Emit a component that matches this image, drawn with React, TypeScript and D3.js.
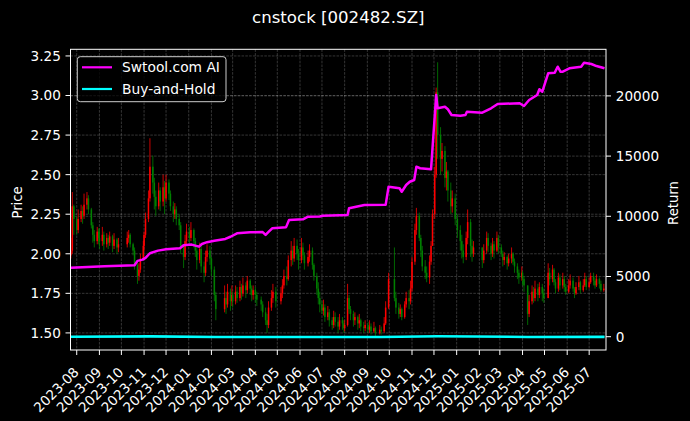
import React from "react";
import * as d3 from "d3";

// ---------- data ----------
const titleText = "cnstock [002482.SZ]";
const firstDay = "2023-07-24";
const lastDay = "2025-07-22";
const holidayRanges: [string, string][] = [
  ["2023-09-29", "2023-10-06"], ["2024-01-01", "2024-01-01"], ["2024-02-09", "2024-02-16"],
  ["2024-04-04", "2024-04-05"], ["2024-05-01", "2024-05-03"], ["2024-06-10", "2024-06-10"],
  ["2024-09-16", "2024-09-17"], ["2024-10-01", "2024-10-07"], ["2025-01-01", "2025-01-01"],
  ["2025-01-28", "2025-02-04"], ["2025-04-04", "2025-04-04"], ["2025-05-01", "2025-05-05"],
  ["2025-06-02", "2025-06-02"],
];

const firstOpen = 1.99;
// one candle per two trading days, grouped by month
const closes = [
  2.02, 2.30, 2.22,
  2.15, 2.22, 2.27, 2.24, 2.31, 2.35, 2.28, 2.18, 2.12, 2.08, 2.14, 2.10,
  2.08, 2.12, 2.06, 2.10, 2.07, 2.11, 2.05, 2.09, 2.04, 2.06,
  2.10, 2.12, 2.06, 2.02, 1.93, 1.86, 1.90, 1.97, 2.05,
  2.12, 2.22, 2.35, 2.55, 2.45, 2.36, 2.30, 2.40, 2.33, 2.42, 2.35,
  2.45, 2.38, 2.30, 2.25, 2.28, 2.22, 2.18, 2.05, 1.98, 2.08, 2.14,
  2.10, 2.15, 2.08, 2.02, 1.96, 2.03, 1.92, 1.88, 1.98, 2.02, 1.97,
  1.90, 1.74, 1.65, 1.72, 1.68, 1.76, 1.70, 1.74,
  1.70, 1.76, 1.72, 1.79, 1.75, 1.80, 1.77, 1.83, 1.78, 1.74, 1.77,
  1.74, 1.71, 1.68, 1.63, 1.58, 1.55, 1.66, 1.72, 1.76, 1.70,
  1.75, 1.80, 1.86, 1.84, 1.96, 2.02, 1.97, 2.05, 2.00, 1.96,
  2.04, 1.99, 1.94, 1.98, 2.02, 1.93, 1.86, 1.78, 1.72, 1.68,
  1.64, 1.66, 1.60, 1.63, 1.58, 1.55, 1.60, 1.57, 1.54, 1.58, 1.56, 1.53,
  1.55, 1.72, 1.65, 1.62, 1.58, 1.60, 1.56, 1.58, 1.54, 1.53, 1.55,
  1.52, 1.54, 1.51, 1.53, 1.50, 1.52, 1.51, 1.56, 1.66, 1.84,
  1.72, 1.66, 1.62, 1.65, 1.60, 1.68, 1.72, 1.70, 1.78,
  1.95, 2.15, 2.24, 2.10, 2.02, 1.92, 1.88, 1.85, 1.95, 2.05, 2.25,
  2.50, 3.02, 2.75, 2.60, 2.65, 2.48, 2.52, 2.40, 2.30, 2.35, 2.22,
  2.15, 2.08, 2.02, 1.98, 2.10, 2.20, 2.05, 2.00, 2.04,
  1.96, 2.02, 2.10, 2.05, 2.00, 2.06, 2.02, 2.10, 2.04,
  2.00, 1.96, 1.98, 1.94, 1.97, 2.00, 1.95, 1.92, 1.88, 1.85, 1.88,
  1.84, 1.80, 1.62, 1.70, 1.76, 1.72, 1.78, 1.74, 1.79, 1.75, 1.72,
  1.88, 1.84, 1.90, 1.82, 1.78, 1.85, 1.80, 1.84, 1.79, 1.76,
  1.80, 1.83, 1.78, 1.75, 1.79, 1.82, 1.77, 1.80, 1.84, 1.79,
  1.82, 1.86, 1.83, 1.80, 1.84, 1.81, 1.77, 1.78,
];
const highs = [
  2.10, 2.39, 2.31,
  2.24, 2.28, 2.31, 2.30, 2.38, 2.39, 2.37, 2.29, 2.20, 2.15, 2.17, 2.16,
  2.16, 2.17, 2.14, 2.13, 2.12, 2.14, 2.12, 2.13, 2.10, 2.10,
  2.14, 2.15, 2.13, 2.07, 2.04, 1.95, 1.94, 2.00, 2.08,
  2.14, 2.26, 2.40, 2.73, 2.62, 2.48, 2.40, 2.45, 2.42, 2.50, 2.46,
  2.50, 2.47, 2.40, 2.33, 2.32, 2.30, 2.25, 2.20, 2.06, 2.12, 2.19,
  2.17, 2.20, 2.16, 2.10, 2.04, 2.07, 2.05, 1.95, 2.02, 2.06, 2.05,
  1.98, 1.92, 1.76, 1.80, 1.76, 1.81, 1.78, 1.80,
  1.76, 1.80, 1.79, 1.83, 1.81, 1.85, 1.82, 1.86, 1.84, 1.80, 1.80,
  1.79, 1.76, 1.73, 1.70, 1.66, 1.62, 1.70, 1.77, 1.81, 1.79,
  1.79, 1.84, 1.90, 1.92, 1.99, 2.08, 2.05, 2.10, 2.09, 2.03,
  2.10, 2.07, 2.01, 2.02, 2.06, 2.04, 1.94, 1.88, 1.82, 1.76,
  1.70, 1.71, 1.68, 1.67, 1.65, 1.60, 1.64, 1.63, 1.60, 1.62, 1.60, 1.58,
  1.58, 1.81, 1.74, 1.67, 1.64, 1.63, 1.61, 1.62, 1.59, 1.57, 1.58,
  1.57, 1.58, 1.56, 1.57, 1.54, 1.55, 1.54, 1.60, 1.70, 1.88,
  2.04, 1.76, 1.69, 1.68, 1.66, 1.70, 1.76, 1.77, 1.83,
  1.98, 2.19, 2.29, 2.26, 2.12, 2.05, 1.96, 1.92, 1.99, 2.08, 2.28,
  2.55, 3.05, 3.21, 2.80, 2.70, 2.68, 2.58, 2.53, 2.45, 2.40, 2.38,
  2.25, 2.18, 2.12, 2.06, 2.14, 2.28, 2.22, 2.09, 2.08,
  2.02, 2.06, 2.14, 2.13, 2.07, 2.10, 2.08, 2.14, 2.12,
  2.06, 2.02, 2.01, 1.99, 2.00, 2.04, 2.01, 1.97, 1.94, 1.90, 1.92,
  1.89, 1.86, 1.78, 1.74, 1.80, 1.79, 1.83, 1.81, 1.82, 1.81, 1.78,
  1.94, 1.91, 1.93, 1.91, 1.84, 1.88, 1.87, 1.88, 1.86, 1.81,
  1.84, 1.87, 1.85, 1.79, 1.82, 1.86, 1.83, 1.84, 1.88, 1.86,
  1.85, 1.88, 1.88, 1.85, 1.87, 1.85, 1.83, 1.81,
];
const lows = [
  1.97, 2.00, 2.12,
  2.12, 2.13, 2.20, 2.19, 2.22, 2.28, 2.25, 2.16, 2.07, 2.04, 2.06, 2.06,
  2.03, 2.05, 2.02, 2.04, 2.03, 2.05, 2.01, 2.03, 2.00, 2.01,
  2.04, 2.07, 2.04, 1.99, 1.90, 1.81, 1.83, 1.88, 1.96,
  2.02, 2.10, 2.20, 2.33, 2.38, 2.28, 2.24, 2.28, 2.27, 2.30, 2.25,
  2.33, 2.34, 2.27, 2.20, 2.22, 2.18, 2.15, 2.00, 1.91, 1.96, 2.05,
  2.06, 2.08, 2.04, 1.98, 1.90, 1.94, 1.88, 1.82, 1.86, 1.95, 1.93,
  1.86, 1.70, 1.58, 1.63, 1.62, 1.66, 1.64, 1.67,
  1.66, 1.68, 1.69, 1.70, 1.71, 1.73, 1.72, 1.75, 1.74, 1.70, 1.71,
  1.69, 1.67, 1.64, 1.60, 1.55, 1.50, 1.53, 1.64, 1.69, 1.66,
  1.68, 1.72, 1.78, 1.80, 1.83, 1.92, 1.93, 1.95, 1.96, 1.90,
  1.94, 1.96, 1.90, 1.92, 1.95, 1.90, 1.83, 1.74, 1.68, 1.63,
  1.62, 1.61, 1.57, 1.58, 1.54, 1.52, 1.53, 1.54, 1.50, 1.52, 1.52, 1.50,
  1.51, 1.54, 1.62, 1.58, 1.54, 1.55, 1.52, 1.53, 1.51, 1.50, 1.51,
  1.50, 1.50, 1.49, 1.50, 1.48, 1.49, 1.49, 1.50, 1.55, 1.65,
  1.70, 1.62, 1.59, 1.60, 1.58, 1.59, 1.66, 1.65, 1.68,
  1.76, 1.93, 2.12, 2.08, 1.98, 1.89, 1.84, 1.82, 1.81, 1.93, 2.06,
  2.22, 2.48, 2.60, 2.50, 2.52, 2.42, 2.40, 2.33, 2.25, 2.26, 2.18,
  2.10, 2.02, 1.97, 1.94, 1.96, 2.06, 1.98, 1.95, 1.98,
  1.91, 1.94, 2.00, 2.01, 1.96, 1.98, 1.97, 2.01, 2.00,
  1.98, 1.92, 1.93, 1.90, 1.92, 1.94, 1.93, 1.88, 1.84, 1.81, 1.83,
  1.80, 1.76, 1.55, 1.60, 1.68, 1.69, 1.70, 1.70, 1.72, 1.70, 1.69,
  1.72, 1.80, 1.82, 1.80, 1.75, 1.76, 1.77, 1.78, 1.76, 1.74,
  1.75, 1.78, 1.76, 1.72, 1.74, 1.77, 1.75, 1.76, 1.79, 1.77,
  1.78, 1.81, 1.80, 1.78, 1.79, 1.78, 1.76, 1.76,
];

const stratDates = [
  "2023-07-24", "2023-09-08", "2023-10-19", "2023-10-23", "2023-10-30", "2023-11-03", "2023-11-09",
  "2023-11-20", "2023-12-01", "2023-12-20", "2023-12-25", "2024-01-05", "2024-01-15", "2024-01-19",
  "2024-01-26", "2024-02-05", "2024-02-20", "2024-02-27", "2024-03-07", "2024-03-25", "2024-04-11",
  "2024-04-15", "2024-04-19", "2024-04-24", "2024-05-13", "2024-05-17", "2024-06-05", "2024-06-12",
  "2024-06-28", "2024-07-02", "2024-08-05", "2024-08-07", "2024-08-28", "2024-09-26", "2024-09-30",
  "2024-10-15", "2024-10-18", "2024-10-24", "2024-10-29", "2024-11-04", "2024-11-07", "2024-11-12",
  "2024-11-27", "2024-12-02", "2024-12-04", "2024-12-06", "2024-12-16", "2024-12-20", "2024-12-25",
  "2025-01-06", "2025-01-13", "2025-01-15", "2025-02-05", "2025-02-17", "2025-02-26", "2025-03-28",
  "2025-04-03", "2025-04-10", "2025-04-21", "2025-04-24", "2025-04-28", "2025-05-06", "2025-05-15",
  "2025-05-19", "2025-05-23", "2025-05-26", "2025-06-04", "2025-06-20", "2025-06-24", "2025-07-04",
  "2025-07-11", "2025-07-22",
];
const stratValues = [
  5730, 5850, 5930, 6300, 6400, 6550, 6930,
  7150, 7260, 7340, 7600, 7650, 7480, 7700,
  7850, 7970, 8120, 8300, 8590, 8670, 8690,
  8450, 8700, 9000, 9100, 9690, 9750, 9970,
  9990, 10050, 10110, 10665, 10940, 10950, 12460,
  12330, 12040, 12600, 12870, 13015, 14120, 13990,
  13900, 18270, 20075, 18970, 19100, 18890, 18415,
  18360, 18415, 18690, 18606, 18970, 19330, 19385,
  19160, 19660, 20075, 20550, 20350, 21880, 21930,
  22425, 22000, 22010, 22290, 22425, 22760, 22650,
  22480, 22290,
];
const bhDates = ["2023-07-24", "2023-11-10", "2024-02-07", "2024-09-20", "2024-12-06", "2025-04-08", "2025-07-22"];
const bhValues = [0, 27, -20, -25, 38, -20, -11];

const monthTickLabels = [
  "2023-08", "2023-09", "2023-10", "2023-11", "2023-12", "2024-01", "2024-02", "2024-03",
  "2024-04", "2024-05", "2024-06", "2024-07", "2024-08", "2024-09", "2024-10", "2024-11",
  "2024-12", "2025-01", "2025-02", "2025-03", "2025-04", "2025-05", "2025-06", "2025-07",
];
const priceTicks = [1.5, 1.75, 2.0, 2.25, 2.5, 2.75, 3.0, 3.25];
const returnTicks = [0, 5000, 10000, 15000, 20000];
const legendLabels = ["Swtool.com AI", "Buy-and-Hold"];

// ---------- layout ----------
const W = 690, H = 421;
const L = 70.5, R = 606, T = 49.3, B = 350;
const FONT = "DejaVu Sans";
const UP = "#ff0000", DOWN = "#008000";
const MAGENTA = "#ff00ff", CYAN = "#00ffff";

const parse = d3.timeParse("%Y-%m-%d");
const monthKey = d3.timeFormat("%Y-%m");

function tradingDays(): Date[] {
  const start = parse(firstDay)!;
  const end = parse(lastDay)!;
  const hol = holidayRanges.map(([a, b]) => [parse(a)!, parse(b)!]);
  return d3.timeDay.range(start, d3.timeDay.offset(end, 1)).filter((d) => {
    const wd = d.getDay();
    if (wd === 0 || wd === 6) return false;
    return !hol.some(([a, b]) => d >= a && d <= b);
  });
}

function candleDates(): Date[] {
  const out: Date[] = [];
  let key = "";
  let k = 0;
  for (const d of tradingDays()) {
    const m = monthKey(d);
    if (m !== key) { key = m; k = 0; }
    if (k % 2 === 0) out.push(d);
    k++;
  }
  return out;
}

export default function App() {
  const x = d3.scaleTime()
    .domain([new Date(2023, 6, 23, 12), new Date(2025, 6, 24)])
    .range([L, R]);
  const yP = d3.scaleLinear().domain([1.392, 3.292]).range([B, T]);
  const yR = d3.scaleLinear().domain([-1105, 23870]).range([B, T]);

  const dates = candleDates();
  const n = Math.min(dates.length, closes.length, highs.length, lows.length);
  const candles = d3.range(n).map((i) => {
    const o = i === 0 ? firstOpen : closes[i - 1];
    const c = closes[i];
    return {
      d: dates[i], o, c,
      h: Math.max(highs[i], o, c),
      l: Math.min(lows[i], o, c),
    };
  });

  const stratLine = d3.line<[Date, number]>().x((p) => x(p[0])).y((p) => yR(p[1]));
  const stratPts: [Date, number][] = stratDates.map((s, i) => [parse(s)!, stratValues[i]]);
  const bhPts: [Date, number][] = bhDates.map((s, i) => [parse(s)!, bhValues[i]]);

  const monthTicks = monthTickLabels.map((s) => parse(s + "-01")!);
  const bw = 1.5;

  const gridStyle = { stroke: "#ffffff", strokeOpacity: 0.3, strokeWidth: 0.7, strokeDasharray: "2.6,1.2" };

  return (
    <svg width={W} height={H} style={{ position: "absolute", left: 0, top: 0, background: "#000" }}
      fontFamily={FONT}>
      <rect x={0} y={0} width={W} height={H} fill="#000" />
      <text x={338.3} y={22.7} fill="#fff" fontSize={16.6} textAnchor="middle">{titleText}</text>

      {/* grid */}
      <g>
        {monthTicks.map((d, i) => (
          <line key={"gx" + i} x1={x(d)} x2={x(d)} y1={T} y2={B} {...gridStyle} />
        ))}
        {priceTicks.map((v, i) => (
          <line key={"gp" + i} x1={L} x2={R} y1={yP(v)} y2={yP(v)} {...gridStyle} />
        ))}
        {returnTicks.map((v, i) => (
          <line key={"gr" + i} x1={L} x2={R} y1={yR(v)} y2={yR(v)} {...gridStyle} />
        ))}
      </g>

      {/* candles */}
      <g>
        {candles.map((c, i) => {
          const cx = x(c.d);
          const col = c.c >= c.o ? UP : DOWN;
          const top = yP(Math.max(c.o, c.c));
          const bot = yP(Math.min(c.o, c.c));
          return (
            <g key={"c" + i}>
              <line x1={cx} x2={cx} y1={yP(c.h)} y2={yP(c.l)} stroke={col} strokeWidth={0.8} />
              <rect x={cx - bw / 2} y={top} width={bw} height={Math.max(bot - top, 0.8)} fill={col} />
            </g>
          );
        })}
      </g>

      {/* return lines */}
      <path d={stratLine(stratPts) || ""} fill="none" stroke={MAGENTA} strokeWidth={2.5} strokeLinejoin="round" />
      <path d={stratLine(bhPts) || ""} fill="none" stroke={CYAN} strokeWidth={2.6} />

      {/* spines */}
      <rect x={L} y={T} width={R - L} height={B - T} fill="none" stroke="#fff" strokeWidth={1} />

      {/* left axis */}
      {priceTicks.map((v, i) => (
        <g key={"lt" + i}>
          <line x1={L - 5} x2={L} y1={yP(v)} y2={yP(v)} stroke="#fff" strokeWidth={1} />
          <text x={L - 9.6} y={yP(v)} dy="0.36em" fill="#fff" fontSize={13.6} textAnchor="end">
            {d3.format(".2f")(v)}
          </text>
        </g>
      ))}
      {/* right axis */}
      {returnTicks.map((v, i) => (
        <g key={"rt" + i}>
          <line x1={R} x2={R + 5} y1={yR(v)} y2={yR(v)} stroke="#fff" strokeWidth={1} />
          <text x={R + 9.8} y={yR(v)} dy="0.36em" fill="#fff" fontSize={13.6} textAnchor="start">
            {String(v)}
          </text>
        </g>
      ))}
      {/* x axis */}
      {monthTicks.map((d, i) => {
        const tx = x(d);
        return (
          <g key={"xt" + i}>
            <line x1={tx} x2={tx} y1={B} y2={B + 5} stroke="#fff" strokeWidth={1} />
            <text transform={`translate(${tx + 3},${373}) rotate(-45)`} fill="#fff" fontSize={13.6}
              textAnchor="end">{monthTickLabels[i]}</text>
          </g>
        );
      })}

      {/* axis labels */}
      <text transform={`translate(21.6,202.5) rotate(-90)`} fill="#fff" fontSize={13.2} textAnchor="middle">Price</text>
      <text transform={`translate(677.5,203) rotate(-90)`} fill="#fff" fontSize={13.2} textAnchor="middle">Return</text>

      {/* legend */}
      <g>
        <rect x={77.3} y={56.7} width={148.7} height={45} rx={3} fill="#000" fillOpacity={0.8}
          stroke="#cccccc" strokeWidth={1} />
        <line x1={82} x2={112} y1={67.3} y2={67.3} stroke={MAGENTA} strokeWidth={2.2} />
        <line x1={82} x2={112} y1={89} y2={89} stroke={CYAN} strokeWidth={2.2} />
        <text x={122} y={67.3} dy="0.36em" fill="#fff" fontSize={13.8}>{legendLabels[0]}</text>
        <text x={122} y={89} dy="0.36em" fill="#fff" fontSize={13.8}>{legendLabels[1]}</text>
      </g>
    </svg>
  );
}
